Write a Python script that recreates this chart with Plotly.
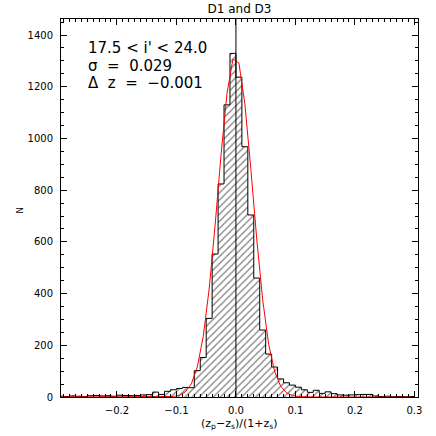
import plotly.graph_objects as go

# Histogram bins (left edges, width 0.01) and counts
bin_width = 0.01
bin_left_edges = [round(-0.30 + 0.01 * i, 2) for i in range(60)]
counts = [3, 2, 4, 3, 2, 5, 6, 4, 5, 3,
          7, 6, 5, 6, 8, 9, 19, 10, 22, 28,
          33, 37, 36, 102, 153, 304, 553, 824, 1130, 1329,
          1237, 968, 704, 460, 259, 166, 116, 70, 55, 46,
          38, 28, 18, 26, 14, 20, 13, 8, 7, 8,
          9, 10, 10, 4, 2, 3, 1, 2, 1, 2]

# Gaussian fit curve (red) sampled at bin centres
fit_values = [0] * 17 + [0.1, 0.6, 2.1, 6.9, 19.9, 50.9, 115.6, 233, 417.5, 664, 937, 1175, 1307,
                         1292, 1134, 883, 611, 375, 204.6, 99, 42.6, 16.3, 5.5, 1.7, 0.4, 0.1] + [0] * 17

title_text = "D1 and D3"
stat_lines = ["17.5 &lt; i' &lt; 24.0", "σ  =  0.029", "Δ  z  =  −0.001"]

bin_centers = [e + bin_width / 2 for e in bin_left_edges]
step_x = bin_left_edges + [bin_left_edges[-1] + bin_width]
step_y = counts + [counts[-1]]

fig = go.Figure()
fig.add_trace(go.Bar(
    x=bin_centers, y=counts, width=bin_width,
    marker=dict(color="white", line=dict(width=0),
                pattern=dict(shape="/", fgcolor="black", bgcolor="white", size=5, solidity=0.25)),
    showlegend=False, hoverinfo="skip"))
fig.add_trace(go.Scatter(
    x=step_x, y=step_y, mode="lines", line=dict(color="black", width=1, shape="hv"),
    showlegend=False, hoverinfo="skip"))
fig.add_trace(go.Scatter(
    x=bin_centers, y=fit_values, mode="lines", line=dict(color="red", width=1),
    showlegend=False, hoverinfo="skip"))

fig.add_shape(type="line", xref="x", yref="paper", x0=0, x1=0, y0=0, y1=1,
              line=dict(color="black", width=1))

font_main = "DejaVu Sans"
ys = [0.923, 0.876, 0.831]
for t, yy in zip(stat_lines, ys):
    fig.add_annotation(text=t, xref="paper", yref="paper", x=0.07, y=yy,
                       xanchor="left", yanchor="middle", showarrow=False,
                       font=dict(family=font_main, size=15, color="black"))

fig.add_annotation(text="N", xref="paper", yref="paper", x=-0.115, y=0.495,
                   textangle=-90, showarrow=False, xanchor="center", yanchor="middle",
                   font=dict(family=font_main, size=9, color="black"))

fig.add_annotation(text="(z<sub>p</sub>−z<sub>s</sub>)/(1+z<sub>s</sub>)", xref="paper", yref="paper",
                   x=0.5, y=-0.072, showarrow=False, xanchor="center", yanchor="middle",
                   font=dict(family=font_main, size=11, color="black"))

fig.update_layout(
    width=436, height=436,
    margin=dict(l=61, r=18, t=19, b=39, autoexpand=False),
    paper_bgcolor="white", plot_bgcolor="white",
    bargap=0,
    title=dict(text=title_text, x=0.5, xref="paper", y=(436 - 9) / 436, yref="container",
               xanchor="center", yanchor="middle", automargin=False,
               font=dict(family=font_main, size=12, color="black")),
    xaxis=dict(range=[-0.294, 0.306], tick0=0, dtick=0.1, tickformat=".1f",
               ticks="inside", ticklen=6, tickwidth=1, tickcolor="black",
               showline=True, linecolor="black", linewidth=1, mirror="ticks",
               showgrid=False, zeroline=False, automargin=False,
               minor=dict(ticks="inside", ticklen=3, dtick=0.01, tick0=0, tickcolor="black", showgrid=False),
               tickfont=dict(family=font_main, size=10, color="black"),
               ticklabelstandoff=4),
    yaxis=dict(range=[0, 1462], tick0=0, dtick=200,
               ticks="inside", ticklen=6, tickwidth=1, tickcolor="black",
               showline=True, linecolor="black", linewidth=1, mirror="ticks",
               showgrid=False, zeroline=False, automargin=False,
               minor=dict(ticks="inside", ticklen=3, dtick=50, tick0=0, tickcolor="black", showgrid=False),
               tickfont=dict(family=font_main, size=10, color="black"),
               ticklabelstandoff=5),
)

fig.write_html("out.html", config={"displayModeBar": False},
               post_script="document.body.style.margin='0px';")
